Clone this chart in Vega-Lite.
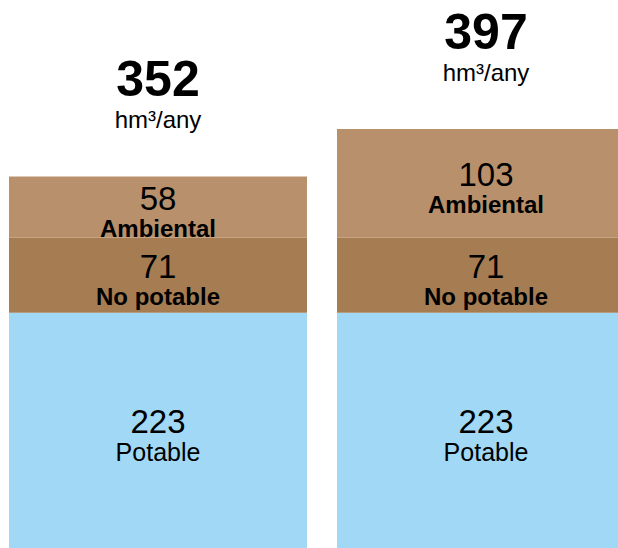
{
  "$schema": "https://vega.github.io/schema/vega-lite/v6.json",
  "width": 618,
  "height": 548,
  "autosize": {"type": "fit", "contains": "padding"},
  "padding": 0,
  "background": "white",
  "config": {"view": {"stroke": null}, "font": "Liberation Sans"},
  "data": {
    "values": [
      {"bar": "A", "cat": "Potable", "order": 1, "value": 223},
      {"bar": "A", "cat": "No potable", "order": 2, "value": 71},
      {"bar": "A", "cat": "Ambiental", "order": 3, "value": 58},
      {"bar": "B", "cat": "Potable", "order": 1, "value": 223},
      {"bar": "B", "cat": "No potable", "order": 2, "value": 71},
      {"bar": "B", "cat": "Ambiental", "order": 3, "value": 103}
    ]
  },
  "encoding": {
    "x": {
      "field": "bar",
      "type": "nominal",
      "axis": null,
      "scale": {"range": [9, 635], "paddingInner": 0.0915, "paddingOuter": 0}
    }
  },
  "layer": [
    {
      "mark": {"type": "bar", "clip": true},
      "encoding": {
        "y": {"field": "value", "type": "quantitative", "stack": "zero", "axis": null, "scale": {"domain": [0, 519.2], "nice": false, "zero": true}},
        "color": {
          "field": "cat",
          "type": "nominal",
          "legend": null,
          "scale": {"domain": ["Potable", "No potable", "Ambiental"], "range": ["#a0d8f5", "#a67c52", "#b8916c"]}
        },
        "order": {"field": "order", "type": "quantitative"}
      }
    },
    {
      "mark": {"type": "text", "fontSize": 33, "baseline": "alphabetic", "dy": 3, "color": "black"},
      "encoding": {
        "y": {"field": "value", "type": "quantitative", "stack": "zero", "bandPosition": 0.5, "axis": null, "scale": {"domain": [0, 519.2], "nice": false, "zero": true}},
        "detail": {"field": "cat", "type": "nominal"},
        "order": {"field": "order", "type": "quantitative"},
        "text": {"field": "value", "type": "quantitative"}
      }
    },
    {
      "mark": {"type": "text", "fontSize": 24, "fontWeight": "bold", "baseline": "alphabetic", "dy": 30, "color": "black"},
      "encoding": {
        "y": {"field": "value", "type": "quantitative", "stack": "zero", "bandPosition": 0.5, "axis": null, "scale": {"domain": [0, 519.2], "nice": false, "zero": true}},
        "detail": {"field": "cat", "type": "nominal"},
        "order": {"field": "order", "type": "quantitative"},
        "text": {"field": "cat", "type": "nominal"},
        "opacity": {
          "condition": {"test": "datum.cat === 'Potable'", "value": 0},
          "value": 1
        }
      }
    },
    {
      "mark": {"type": "text", "fontSize": 25, "baseline": "alphabetic", "dy": 31, "color": "black"},
      "encoding": {
        "y": {"field": "value", "type": "quantitative", "stack": "zero", "bandPosition": 0.5, "axis": null, "scale": {"domain": [0, 519.2], "nice": false, "zero": true}},
        "detail": {"field": "cat", "type": "nominal"},
        "order": {"field": "order", "type": "quantitative"},
        "text": {"field": "cat", "type": "nominal"},
        "opacity": {
          "condition": {"test": "datum.cat === 'Potable'", "value": 1},
          "value": 0
        }
      }
    },
    {
      "transform": [{"aggregate": [{"op": "sum", "field": "value", "as": "total"}], "groupby": ["bar"]}],
      "mark": {"type": "text", "fontSize": 50, "fontWeight": "bold", "baseline": "alphabetic", "dy": -80, "color": "black"},
      "encoding": {
        "y": {"field": "total", "type": "quantitative", "axis": null, "scale": {"domain": [0, 519.2], "nice": false, "zero": true}},
        "text": {"field": "total", "type": "quantitative"}
      }
    },
    {
      "transform": [{"aggregate": [{"op": "sum", "field": "value", "as": "total"}], "groupby": ["bar"]}],
      "mark": {"type": "text", "fontSize": 24, "baseline": "alphabetic", "dy": -48, "color": "black"},
      "encoding": {
        "y": {"field": "total", "type": "quantitative", "axis": null, "scale": {"domain": [0, 519.2], "nice": false, "zero": true}},
        "text": {"value": "hm³/any"}
      }
    }
  ]
}
